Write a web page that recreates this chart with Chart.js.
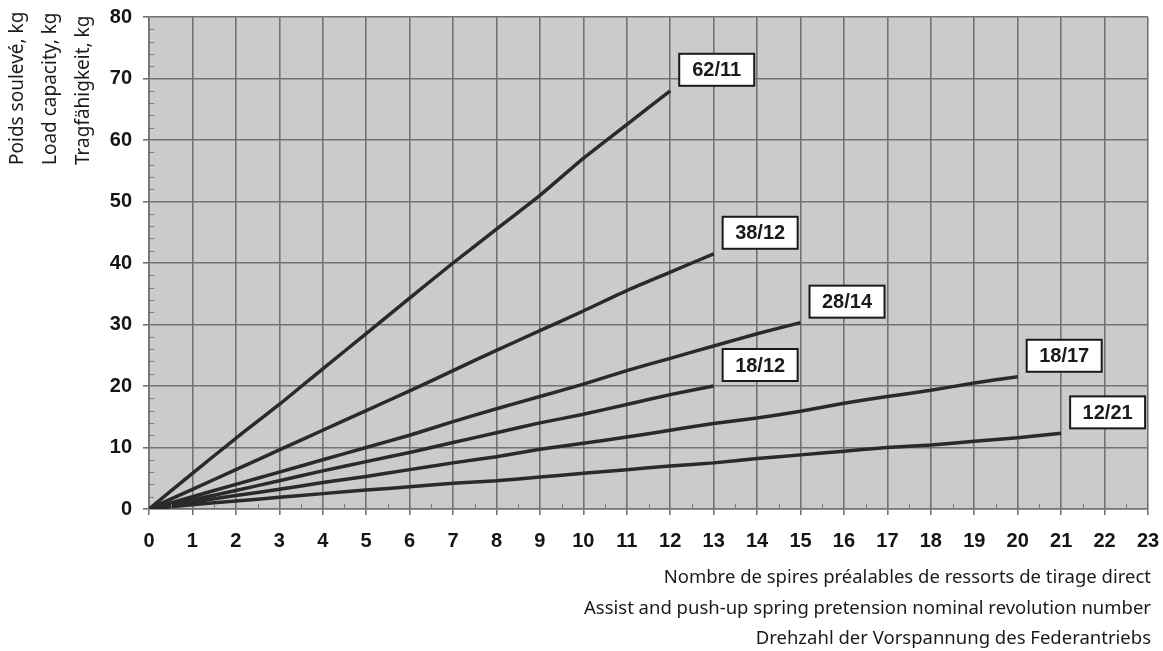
<!DOCTYPE html>
<html>
<head>
<meta charset="utf-8">
<script src="https://cdn.jsdelivr.net/npm/chart.js@4.4.1/dist/chart.umd.min.js"></script>
<style>
  html, body { margin: 0; padding: 0; background: #fff; }
  #wrap { width: 1163px; height: 651px; }
</style>
</head>
<body>
<div id="wrap"><canvas id="chart"></canvas></div>
<script>
const revolutions = [0, 1, 2, 3, 4, 5, 6, 7, 8, 9, 10, 11, 12, 13, 14, 15, 16, 17, 18, 19, 20, 21];

const spring_62_11 = [0, 5.8, 11.5, 17, 22.8, 28.5, 34.3, 40, 45.5, 51, 57, 62.5, 68];
const spring_38_12 = [0, 3.2, 6.4, 9.6, 12.8, 16, 19.2, 22.5, 25.8, 29, 32.2, 35.5, 38.5, 41.5];
const spring_28_14 = [0, 2, 4, 6, 8, 10, 12, 14.2, 16.3, 18.3, 20.3, 22.5, 24.5, 26.5, 28.5, 30.3];
const spring_18_12 = [0, 1.5, 3, 4.6, 6.2, 7.7, 9.2, 10.8, 12.4, 14, 15.4, 17, 18.6, 20];
const spring_18_17 = [0, 1.1, 2.2, 3.2, 4.3, 5.3, 6.4, 7.5, 8.5, 9.7, 10.7, 11.7, 12.8, 13.9, 14.8, 15.9, 17.2, 18.3, 19.3, 20.5, 21.5];
const spring_12_21 = [0, 0.7, 1.3, 1.9, 2.5, 3.1, 3.6, 4.2, 4.6, 5.2, 5.8, 6.4, 7, 7.5, 8.2, 8.8, 9.4, 10, 10.4, 11, 11.6, 12.3];

const series_names = ['62/11', '38/12', '28/14', '18/12', '18/17', '12/21'];
const series_values = [spring_62_11, spring_38_12, spring_28_14, spring_18_12, spring_18_17, spring_12_21];

const y_title = ['Poids soulevé, kg', 'Load capacity, kg', 'Tragfähigkeit, kg'];
const x_title = [
    'Nombre de spires préalables de ressorts de tirage direct',
    'Assist and push-up spring pretension nominal revolution number',
    'Drehzahl der Vorspannung des Federantriebs'
];

const datasets = series_values.map((vals, i) => ({
    label: series_names[i],
    data: vals.map((v, j) => ({ x: revolutions[j], y: v })),
    borderColor: '#2a2a2a',
    borderWidth: 3.5,
    pointRadius: 0,
    tension: 0.2,
    fill: false
}));

// grey plot background
const plotBackground = {
    id: 'plotBackground',
    beforeDraw(chart) {
        const { ctx, chartArea: a } = chart;
        ctx.save();
        ctx.fillStyle = '#cbcbcd';
        ctx.fillRect(a.left, a.top, a.right - a.left, a.bottom - a.top);
        ctx.restore();
    }
};

// small minor ticks along the axes
const minorTicks = {
    id: 'minorTicks',
    afterDatasetsDraw(chart) {
        const { ctx, chartArea: a, scales } = chart;
        ctx.save();
        ctx.strokeStyle = '#777';
        ctx.lineWidth = 1;
        for (let v = 2; v < 80; v += 2) {
            if (v % 10 === 0) continue;
            const y = Math.round(scales.y.getPixelForValue(v)) + 0.5;
            ctx.beginPath();
            ctx.moveTo(a.left, y);
            ctx.lineTo(a.left + 5, y);
            ctx.stroke();
        }
        for (let v = 0.5; v < 23; v += 1) {
            const x = Math.round(scales.x.getPixelForValue(v)) + 0.5;
            ctx.beginPath();
            ctx.moveTo(x, a.bottom);
            ctx.lineTo(x, a.bottom - 5);
            ctx.stroke();
        }
        ctx.restore();
    }
};

// boxed series names at the end of each curve
const endLabels = {
    id: 'endLabels',
    afterDatasetsDraw(chart) {
        const { ctx, scales } = chart;
        ctx.save();
        ctx.font = 'bold 20px "Liberation Sans", Arial, sans-serif';
        ctx.textBaseline = 'middle';
        ctx.textAlign = 'center';
        series_values.forEach((vals, i) => {
            const last = vals.length - 1;
            const px = scales.x.getPixelForValue(revolutions[last]);
            const py = scales.y.getPixelForValue(vals[last]);
            const w = 75, h = 32;
            const left = px + 9, bottom = py - 5;
            ctx.fillStyle = '#fff';
            ctx.fillRect(left, bottom - h, w, h);
            ctx.strokeStyle = '#1a1a1a';
            ctx.lineWidth = 2;
            ctx.strokeRect(left, bottom - h, w, h);
            ctx.fillStyle = '#1a1a1a';
            ctx.fillText(series_names[i], left + w / 2, bottom - h / 2 + 1);
        });
        ctx.restore();
    }
};

// three-language axis titles
const axisTitles = {
    id: 'axisTitles',
    afterDraw(chart) {
        const { ctx } = chart;
        ctx.save();
        ctx.fillStyle = '#1a1a1a';
        ctx.textBaseline = 'middle';
        ctx.font = '18.5px "Noto Sans", "Open Sans", sans-serif';
        ctx.textAlign = 'right';
        x_title.forEach((t, i) => ctx.fillText(t, 1151, 578 + i * 30.5));
        ctx.font = '19px "Noto Sans", "Open Sans", sans-serif';
        ctx.textAlign = 'left';
        y_title.forEach((t, i) => {
            ctx.save();
            ctx.translate(18 + i * 33, 165);
            ctx.rotate(-Math.PI / 2);
            ctx.fillText(t, 0, 0);
            ctx.restore();
        });
        ctx.restore();
    }
};

const tickFont = { size: 20, weight: 'bold', family: '"Liberation Sans", Arial, sans-serif' };

new Chart(document.getElementById('chart'), {
    type: 'line',
    data: { datasets: datasets },
    plugins: [plotBackground, minorTicks, endLabels, axisTitles],
    options: {
        responsive: true,
        maintainAspectRatio: false,
        animation: false,
        layout: { padding: { top: 17, right: 15, left: 0, bottom: 0 } },
        plugins: {
            legend: { display: false },
            tooltip: { enabled: false }
        },
        scales: {
            x: {
                type: 'linear',
                min: 0,
                max: 23,
                afterFit: s => {
                    s.height = 142;
                    s.paddingLeft = 0;
                    s.paddingRight = 0;
                },
                ticks: {
                    stepSize: 1,
                    padding: 14,
                    color: '#151515',
                    font: tickFont
                },
                grid: { color: '#727272', lineWidth: 1.6, tickLength: 6 },
                border: { color: '#727272', width: 1.6 }
            },
            y: {
                min: 0,
                max: 80,
                afterFit: s => {
                    s.width = 149;
                    s.paddingTop = 0;
                    s.paddingBottom = 0;
                },
                ticks: {
                    stepSize: 10,
                    padding: 11,
                    color: '#151515',
                    font: tickFont
                },
                grid: { color: '#727272', lineWidth: 1.6, tickLength: 6 },
                border: { color: '#727272', width: 1.6 }
            }
        }
    }
});
</script>
</body>
</html>
